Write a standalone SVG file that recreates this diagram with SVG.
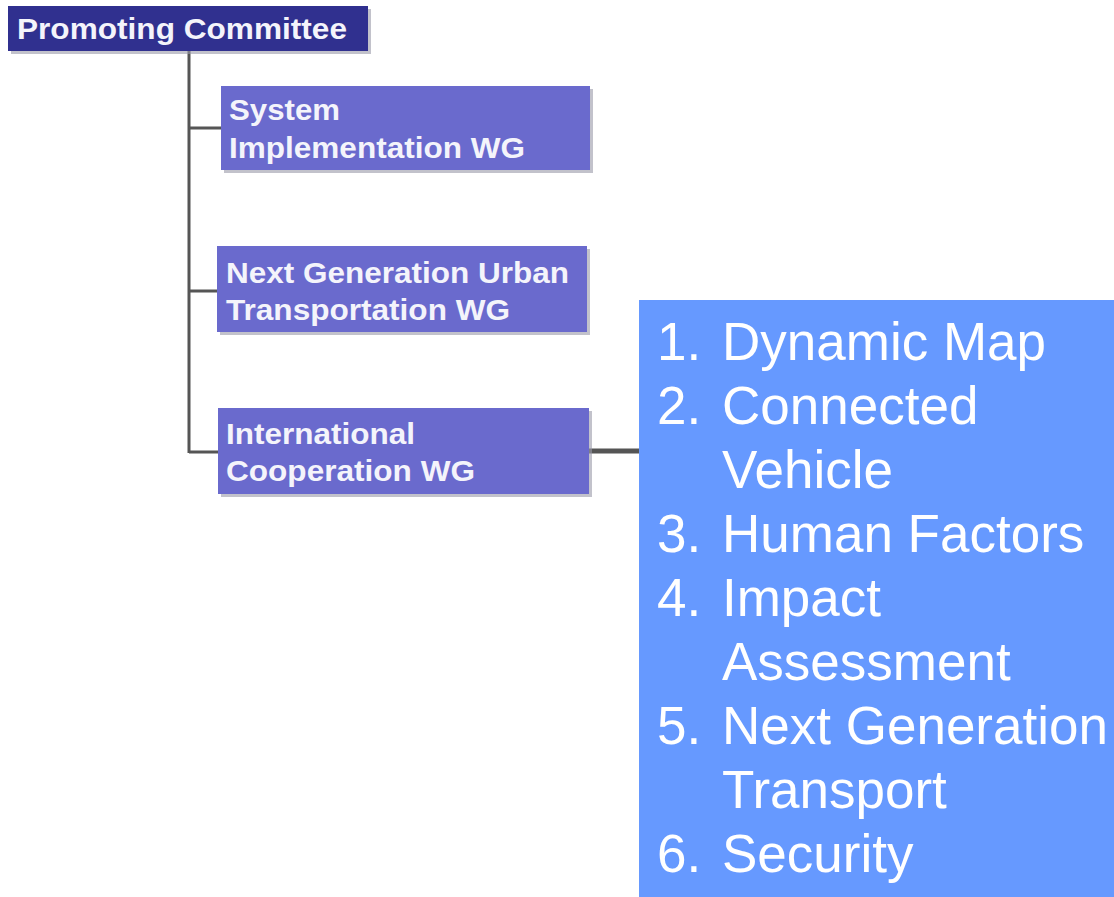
<svg xmlns="http://www.w3.org/2000/svg" width="1114" height="897" viewBox="0 0 1114 897">
<style>
.shadow{fill:#9a9aa8;opacity:0.6}
.wg{fill:#6a6acd}
.lbl{font-family:"Liberation Sans",Arial,sans-serif;font-weight:bold;font-size:30px;fill:#f4f4fb}
.list{font-family:"Liberation Sans",Arial,sans-serif;font-size:53px;fill:#ffffff}
.conn{stroke:#555555;stroke-width:3;fill:none}
</style>
<rect width="1114" height="897" fill="#ffffff"/>
<g id="connectors">
<path class="conn" d="M189 51 V453 M189 128 H222 M189 291 H218 M189 452 H219"/>
<path d="M589 451 H640" stroke="#555555" stroke-width="5" fill="none"/>
</g>
<g id="promoting">
<rect class="shadow" x="11" y="9" width="360" height="45"/>
<rect x="8" y="6" width="360" height="45" fill="#30308f"/>
<text class="lbl" x="17" y="39" textLength="330" lengthAdjust="spacingAndGlyphs">Promoting Committee</text>
</g>
<g id="system">
<rect class="shadow" x="224" y="89" width="369" height="84"/>
<rect class="wg" x="221" y="86" width="369" height="84"/>
<text class="lbl" x="229" y="120" textLength="111" lengthAdjust="spacingAndGlyphs">System</text>
<text class="lbl" x="229" y="158" textLength="296" lengthAdjust="spacingAndGlyphs">Implementation WG</text>
</g>
<g id="nextgen">
<rect class="shadow" x="220" y="249" width="370" height="86"/>
<rect class="wg" x="217" y="246" width="370" height="86"/>
<text class="lbl" x="226" y="283" textLength="343" lengthAdjust="spacingAndGlyphs">Next Generation Urban</text>
<text class="lbl" x="226" y="320" textLength="284" lengthAdjust="spacingAndGlyphs">Transportation WG</text>
</g>
<g id="international">
<rect class="shadow" x="221" y="411" width="371" height="86"/>
<rect class="wg" x="218" y="408" width="371" height="86"/>
<text class="lbl" x="226" y="444" textLength="189" lengthAdjust="spacingAndGlyphs">International</text>
<text class="lbl" x="226" y="481" textLength="249" lengthAdjust="spacingAndGlyphs">Cooperation WG</text>
</g>
<g id="topics">
<rect x="639" y="300" width="475" height="597" fill="#6699ff"/>
<text class="list" x="657" y="360">1.</text><text class="list" x="722" y="360">Dynamic Map</text>
<text class="list" x="657" y="424">2.</text><text class="list" x="722" y="424">Connected</text>
<text class="list" x="722" y="488">Vehicle</text>
<text class="list" x="657" y="552">3.</text><text class="list" x="722" y="552">Human Factors</text>
<text class="list" x="657" y="616">4.</text><text class="list" x="722" y="616">Impact</text>
<text class="list" x="722" y="680">Assessment</text>
<text class="list" x="657" y="744">5.</text><text class="list" x="722" y="744">Next Generation</text>
<text class="list" x="722" y="808">Transport</text>
<text class="list" x="657" y="872">6.</text><text class="list" x="722" y="872">Security</text>
</g>
</svg>
